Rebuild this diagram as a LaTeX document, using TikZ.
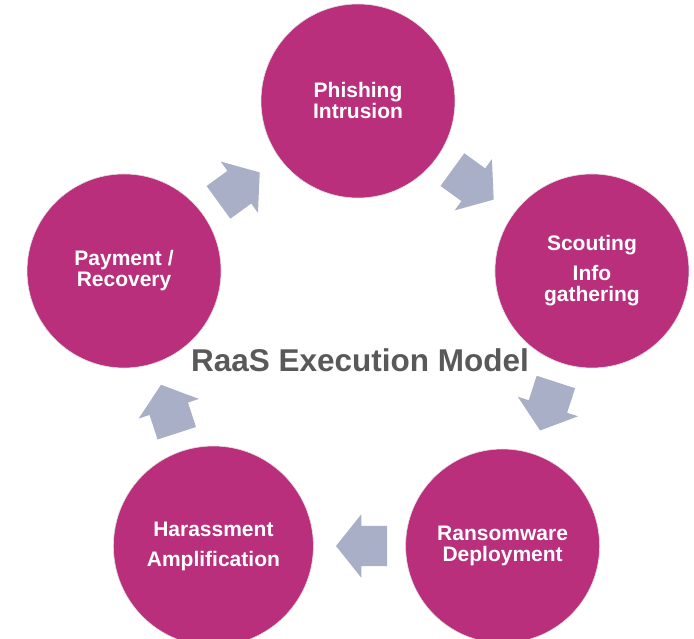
\documentclass[tikz,border=0pt]{standalone}
\usepackage{fontspec}
\setmainfont{Liberation Sans}
\usepackage{xcolor}
\usepackage{tikz}
\usetikzlibrary{calc, positioning, shapes.arrows}
\definecolor{raasMagenta}{RGB}{185,47,124}
\definecolor{flowGray}{RGB}{169,175,198}
\definecolor{titleGray}{RGB}{89,89,89}
\tikzset{
    stage/.style={circle, fill=raasMagenta, draw=black!12, line width=0.6pt, minimum size=194pt, inner sep=0pt, align=center, text=white, font=\fontsize{21}{21}\selectfont\bfseries},
    flow/.style={single arrow, fill=flowGray, draw=none, minimum height=51pt, inner xsep=0pt, inner ysep=20pt, single arrow head extend=11.5pt, single arrow tip angle=103, pos=0.39, sloped, allow upside down},
    title/.style={font=\fontsize{31.5}{36}\selectfont\bfseries, text=titleGray}
}

\begin{document}
\begin{tikzpicture}[x=1pt, y=1pt]
        \useasboundingbox (0,0) rectangle (694,639);
        \coordinate (Hub) at (358,292);

        % Stages of the cycle
        \node[stage] (Phishing) at ($(Hub)+(90:246)$) {Phishing\\Intrusion};
        \node[stage] (Scouting) at ($(Hub)+(18:246)$) {Scouting\\[9pt]Info\\gathering};
        \node[stage] (Ransomware) at ($(Hub)+(-54:246)$) {Ransomware\\Deployment};
        \node[stage, minimum size=200pt] (Harassment) at ($(Hub)+(-126:246)$) {Harassment\\[9pt]Amplification};
        \node[stage] (Payment) at ($(Hub)+(162:246)$) {Payment /\\Recovery};

        % Block arrows between stages
        \path (Phishing) -- node[flow] (FlowA) {} (Scouting);
        \path (Scouting) -- node[flow] (FlowB) {} (Ransomware);
        \path (Ransomware) -- node[flow] (FlowC) {} (Harassment);
        \path (Harassment) -- node[flow] (FlowD) {} (Payment);
        \path (Payment) -- node[flow] (FlowE) {} (Phishing);

        % Title
        \node[title, anchor=base] (Title) at (360,267) {RaaS Execution Model};
    \end{tikzpicture}
\end{document}
